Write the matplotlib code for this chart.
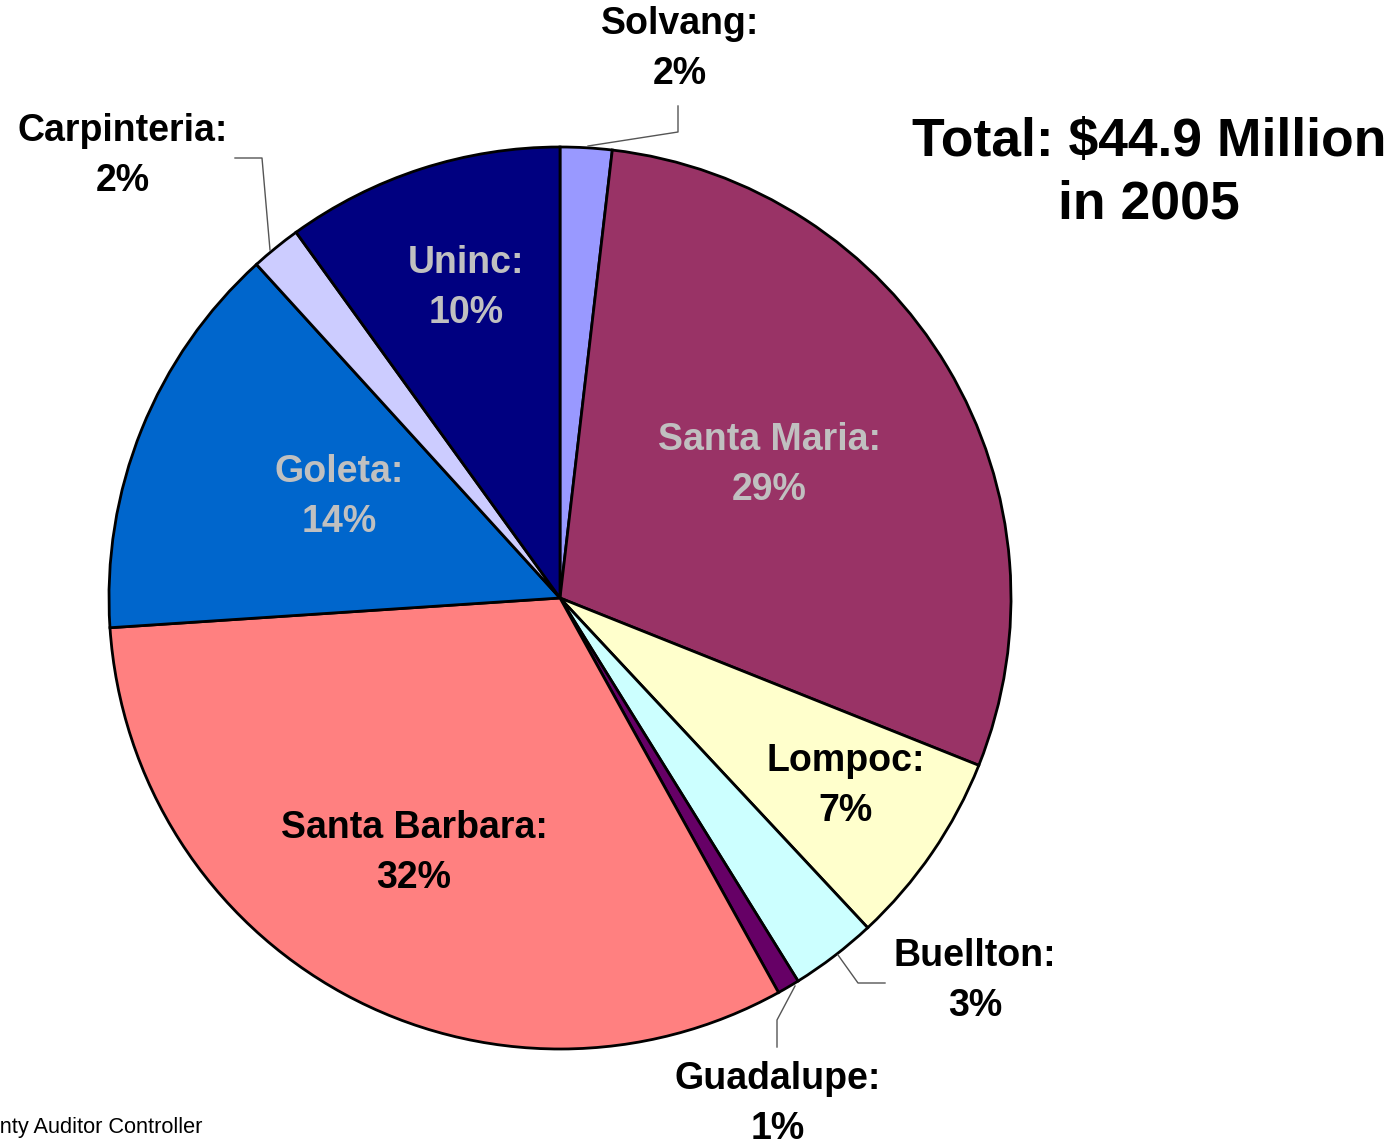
import matplotlib.pyplot as plt

plt.rcParams["font.family"] = ["Liberation Sans", "DejaVu Sans"]

# share of 2005 total, clockwise from 12 o'clock
places = ["Solvang", "Santa Maria", "Lompoc", "Buellton", "Guadalupe",
          "Santa Barbara", "Goleta", "Carpinteria", "Uninc"]
shares = [1.85, 29.2, 7.0, 3.1, 0.8, 32.0, 14.3, 1.8, 9.95]
colors = ["#9999FF", "#993366", "#FFFFCC", "#CCFFFF", "#660066",
          "#FF8080", "#0066CC", "#CCCCFF", "#000080"]
title = "Total: $44.9 Million\nin 2005"
source = "Source: Santa Barbara County Auditor Controller"

W, H = 1395, 1145
fig = plt.figure(figsize=(W / 100, H / 100), dpi=100)
ax = fig.add_axes([0, 0, 1, 1])

def py(y):
    # pixel row (top-down) to axes y
    return H - y

cx, cy, r = 560, py(598), 451
ax.pie(shares, colors=colors, startangle=90, counterclock=False,
       center=(cx, cy), radius=r, frame=True,
       wedgeprops=dict(edgecolor="black", linewidth=2.0))
ax.set_xlim(0, W)
ax.set_ylim(0, H)
ax.set_aspect("equal")
ax.axis("off")

# label centres (x, pixel row), text colour
label_pos = {
    "Solvang": (680, 49, "black"),
    "Santa Maria": (769, 465, "#C0C0C0"),
    "Lompoc": (846, 786, "black"),
    "Buellton": (975, 981, "black"),
    "Guadalupe": (778, 1104, "black"),
    "Santa Barbara": (414, 853, "black"),
    "Goleta": (339, 497, "#C0C0C0"),
    "Carpinteria": (123, 156, "black"),
    "Uninc": (466, 288, "#C0C0C0"),
}
for name, val in zip(places, shares):
    x, y, c = label_pos[name]
    ax.text(x, py(y), f"{name}:\n{val:.0f}%", ha="center", va="center",
            fontsize=27, fontweight="bold", color=c, linespacing=1.47)

# leader lines for the small outside labels
leaders = [
    [(588, 146), (678, 132), (678, 106)],
    [(270, 250), (262, 158), (235, 158)],
    [(838, 955), (858, 983), (885, 983)],
    [(795, 986), (777, 1020), (777, 1047)],
]
for pts in leaders:
    ax.plot([p[0] for p in pts], [py(p[1]) for p in pts],
            color="#555555", linewidth=1.0)

ax.text(1149, py(173), title, ha="center", va="center",
        fontsize=38.5, fontweight="bold", linespacing=1.31)
ax.text(202, py(1128), source, ha="right", va="center", fontsize=15.7)

fig.savefig("out.png", dpi=100)
